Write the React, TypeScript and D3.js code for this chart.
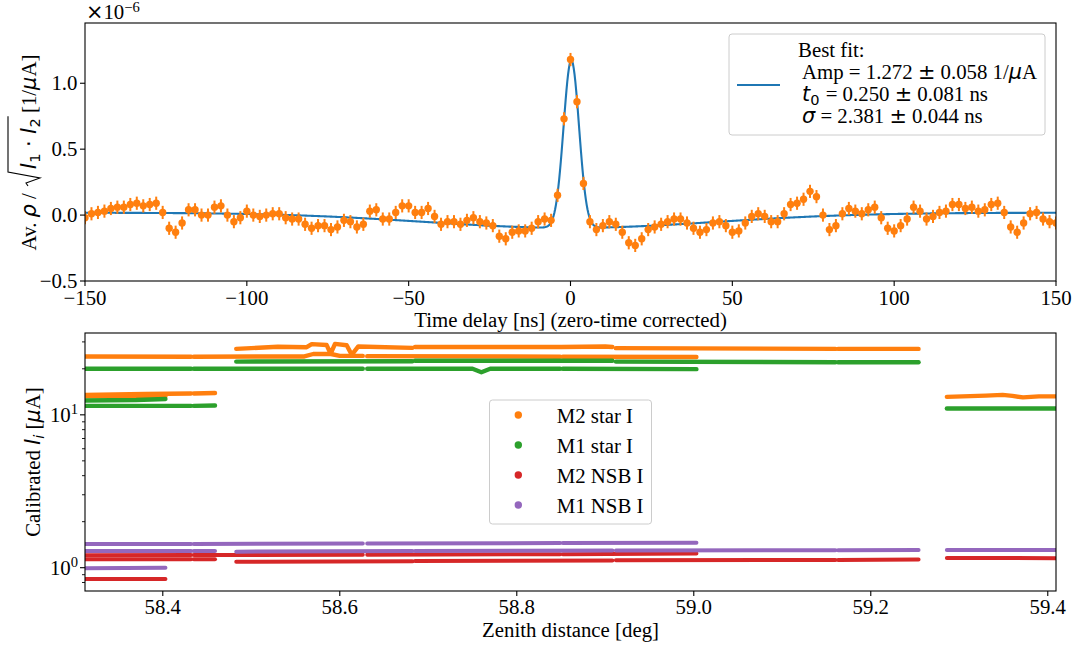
import React, { useLayoutEffect, useRef, useState } from 'react';
import * as d3 from 'd3';

const W = 1076;
const H = 647;
const SERIF = '"Liberation Serif", "Times New Roman", serif';
const MATH = '"DejaVu Sans", sans-serif';
const FS = 20.83;

// ---------------- Top panel data ----------------
const delayStart = -150;
const delayStep = 2;
const rhoLeft = [
  -0.02, 0.01, 0.02, 0.03, 0.05, 0.06, 0.06, 0.08, 0.09, 0.07,
  0.08, 0.09, 0.02, -0.10, -0.13, -0.06, 0.04, 0.04, 0.00, 0.00,
  0.06, 0.07, 0.00, -0.05, -0.02, 0.03, 0.00, -0.01, 0.00, 0.01,
  0.01, -0.02, -0.03, -0.03, -0.07, -0.10, -0.08, -0.08, -0.11, -0.09,
  -0.04, -0.05, -0.09, -0.07, 0.03, 0.04, -0.03, -0.03, 0.02, 0.07,
  0.07, 0.02, 0.02, 0.05, -0.01, -0.07, -0.05, -0.05, -0.07, -0.04,
  -0.02, -0.05, -0.06, -0.08, -0.16, -0.18, -0.13, -0.12, -0.12, -0.10,
  -0.05, -0.03, -0.04, 0.15,
];
const rhoPeak = [0.73, 1.18, 0.86, 0.24];
const rhoRight = [
  -0.05, -0.11, -0.08, -0.05, -0.07, -0.13, -0.21, -0.23, -0.18, -0.11,
  -0.09, -0.07, -0.05, -0.03, -0.03, -0.06, -0.10, -0.13, -0.11, -0.06,
  -0.05, -0.08, -0.13, -0.12, -0.06, -0.01, 0.01, -0.01, -0.05, -0.05,
  0.01, 0.08, 0.09, 0.12, 0.18, 0.14, 0.00, -0.11, -0.08, 0.01,
  0.05, 0.03, 0.01, 0.04, 0.06, -0.02, -0.10, -0.12, -0.08, -0.03,
  0.06, 0.03, -0.03, -0.01, 0.02, 0.03, 0.08, 0.08, 0.05, 0.06,
  0.03, 0.04, 0.08, 0.09, 0.02, -0.09, -0.13, -0.06, 0.01, 0.02,
  -0.03, -0.05, -0.06,
];
const rhoValues = [...rhoLeft, ...rhoPeak, ...rhoRight];
const delays = rhoValues.map((_, i) => delayStart + i * delayStep);
const rhoErr = 0.05;

// fit model parameters (legend) + broad baseline
const fitAmp = 1.272;
const fitT0 = 0.25;
const fitSigma = 2.381;
const baseOffset = 0.018;
const baseDip = 0.115;
const baseWidth = 45;

const topXTicks = [-150, -100, -50, 0, 50, 100, 150];
const topYTicks = [-0.5, 0.0, 0.5, 1.0];

// ---------------- Bottom panel data ----------------
type Seg = [number, number][];
const seriesNames = ['M2 star I', 'M1 star I', 'M2 NSB I', 'M1 NSB I'];
const seriesColors = ['#ff7f0e', '#2ca02c', '#d62728', '#9467bd'];

const m2StarI: Seg[] = [
  [[58.312, 13.2], [58.403, 13.25]],
  [[58.312, 13.5], [58.38, 13.7], [58.432, 13.8]],
  [[58.435, 13.8], [58.459, 13.9]],
  [[58.312, 24.1], [58.432, 24.0]],
  [[58.435, 24.0], [58.56, 24.1], [58.57, 25.0], [58.59, 25.0], [58.60, 24.3], [58.626, 24.3]],
  [[58.631, 24.2], [58.849, 24.0]],
  [[58.852, 24.0], [59.003, 23.9]],
  [[58.483, 27.0], [58.53, 27.9], [58.5626, 27.7], [58.5683, 29.0], [58.5852, 28.6], [58.5897, 25.1],
   [58.5946, 29.1], [58.6078, 28.5], [58.6135, 24.7], [58.6209, 28.0], [58.682, 27.4]],
  [[58.685, 27.8], [58.85, 27.8], [58.9, 28.0], [58.908, 27.8]],
  [[58.912, 27.3], [59.160, 27.0]],
  [[59.163, 27.0], [59.254, 27.0]],
  [[59.286, 13.1], [59.33, 13.35], [59.349, 13.5], [59.36, 13.3], [59.372, 13.0], [59.39, 13.2], [59.412, 13.2]],
];
const m1StarI: Seg[] = [
  [[58.312, 12.4], [58.37, 12.5], [58.403, 12.7]],
  [[58.312, 11.45], [58.432, 11.45]],
  [[58.435, 11.45], [58.459, 11.5]],
  [[58.312, 20.0], [58.432, 20.0]],
  [[58.435, 20.0], [58.626, 20.0]],
  [[58.631, 20.0], [58.75, 20.0], [58.76, 19.0], [58.77, 20.0], [58.849, 20.0]],
  [[58.852, 20.0], [59.003, 19.9]],
  [[58.483, 22.3], [58.682, 22.4]],
  [[58.685, 22.6], [58.908, 22.6]],
  [[58.912, 22.3], [59.160, 22.1]],
  [[59.163, 22.1], [59.254, 22.1]],
  [[59.286, 11.0], [59.412, 11.0]],
];
const m2NsbI: Seg[] = [
  [[58.312, 0.843], [58.403, 0.845]],
  [[58.312, 1.135], [58.432, 1.135]],
  [[58.435, 1.135], [58.459, 1.135]],
  [[58.312, 1.205], [58.432, 1.21]],
  [[58.435, 1.21], [58.626, 1.215]],
  [[58.631, 1.215], [58.849, 1.225]],
  [[58.852, 1.225], [59.003, 1.24]],
  [[58.483, 1.094], [58.682, 1.10]],
  [[58.685, 1.105], [58.908, 1.115]],
  [[58.912, 1.118], [59.160, 1.125]],
  [[59.163, 1.125], [59.254, 1.13]],
  [[59.286, 1.158], [59.412, 1.155]],
];
const m1NsbI: Seg[] = [
  [[58.312, 0.99], [58.403, 1.0]],
  [[58.312, 1.287], [58.432, 1.287]],
  [[58.435, 1.287], [58.459, 1.287]],
  [[58.312, 1.43], [58.432, 1.43]],
  [[58.435, 1.43], [58.626, 1.44]],
  [[58.631, 1.44], [58.849, 1.45]],
  [[58.852, 1.45], [59.003, 1.458]],
  [[58.483, 1.273], [58.682, 1.285]],
  [[58.685, 1.287], [58.908, 1.295]],
  [[58.912, 1.297], [59.160, 1.30]],
  [[59.163, 1.30], [59.254, 1.305]],
  [[59.286, 1.306], [59.412, 1.306]],
];
const seriesSegs = [m2StarI, m1StarI, m2NsbI, m1NsbI];

const botXTicks = [58.4, 58.6, 58.8, 59.0, 59.2, 59.4];
const botYMajor = [1, 10];
const botYMinor = [0.8, 0.9, 2, 3, 4, 5, 6, 7, 8, 9, 20, 30];

// ---------------- layout ----------------
const L = 85, R = 1056;
const T1 = 23, B1 = 281;
const T2 = 333, B2 = 591;

const xTop = d3.scaleLinear().domain([-150, 150]).range([L, R]);
const yTop = d3.scaleLinear().domain([-0.5, 1.457]).range([B1, T1]);
const xBot = d3.scaleLinear().domain([58.3121, 59.4093]).range([L, R]);
const yBot = d3.scaleLog().domain([0.704, 34.3]).range([B2, T2]);

const fmtTop = (v: number) => (v < 0 ? '\u2212' : '') + Math.abs(v).toString();
const fmtTopY = (v: number) => (v < 0 ? '\u2212' : '') + Math.abs(v).toFixed(1);

function fitModel(t: number) {
  const g = fitAmp * Math.exp(-((t - fitT0) ** 2) / (2 * fitSigma * fitSigma));
  const b = baseOffset - baseDip * Math.exp(-(t * t) / (2 * baseWidth * baseWidth));
  return g + b;
}

function TopYLabel() {
  const ref = useRef<SVGTextElement>(null);
  const [rad, setRad] = useState<{ x0: number; x1: number } | null>(null);
  useLayoutEffect(() => {
    const t = ref.current;
    if (!t) return;
    const s = t.textContent || '';
    const i0 = s.indexOf('I');
    const i1 = s.indexOf('2');
    const e0 = t.getExtentOfChar(i0);
    const e1 = t.getExtentOfChar(i1);
    setRad({ x0: e0.x, x1: e1.x + e1.width });
  }, []);
  return (
    <g transform="translate(36,152.5) rotate(-90)">
      <text ref={ref} x={0} y={0} textAnchor="middle" fontFamily={SERIF} fontSize={FS} fill="#000">
        <tspan>Av. </tspan>
        <tspan fontFamily={MATH} fontStyle="italic">ρ</tspan>
        <tspan> / </tspan>
        <tspan dx={19} fontFamily={MATH} fontStyle="italic">I</tspan>
        <tspan fontFamily={MATH} fontSize={FS * 0.7} dy={4}>1</tspan>
        <tspan fontFamily={MATH} dy={-4}> · </tspan>
        <tspan fontFamily={MATH} fontStyle="italic">I</tspan>
        <tspan fontFamily={MATH} fontSize={FS * 0.7} dy={4}>2</tspan>
        <tspan dy={-4}> [1/</tspan>
        <tspan fontFamily={MATH} fontStyle="italic">μ</tspan>
        <tspan>A]</tspan>
      </text>
      {rad && (
        <path
          d={`M${rad.x0 - 17},${-8} L${rad.x0 - 14},${-10} L${rad.x0 - 9},${4} L${rad.x0 - 3},${-28} H${rad.x1 + 2}`}
          fill="none"
          stroke="#000"
          strokeWidth={1.1}
        />
      )}
    </g>
  );
}

export default function App() {
  const fitPts = d3.range(-150, 150.001, 0.25).map((t) => [t, fitModel(t)] as [number, number]);
  const fitLine = d3
    .line<[number, number]>()
    .x((d) => xTop(d[0]))
    .y((d) => yTop(d[1]))(fitPts);
  const segLine = d3
    .line<[number, number]>()
    .x((d) => xBot(d[0]))
    .y((d) => yBot(d[1]));

  const orange = '#ff7f0e';
  const blue = '#1f77b4';

  return (
    <svg width={W} height={H} style={{ position: 'absolute', left: 0, top: 0, background: '#fff' }}>
      <defs>
        <clipPath id="clipTop">
          <rect x={L} y={T1} width={R - L} height={B1 - T1} />
        </clipPath>
        <clipPath id="clipBot">
          <rect x={L} y={T2} width={R - L} height={B2 - T2} />
        </clipPath>
      </defs>
      <rect x={0} y={0} width={W} height={H} fill="#fff" />

      {/* ---------- TOP PANEL ---------- */}
      <g clipPath="url(#clipTop)">
        <path d={fitLine || ''} fill="none" stroke={blue} strokeWidth={2.1} />
        {delays.map((t, i) => (
          <line
            key={'e' + i}
            x1={xTop(t)}
            x2={xTop(t)}
            y1={yTop(rhoValues[i] - rhoErr)}
            y2={yTop(rhoValues[i] + rhoErr)}
            stroke={orange}
            strokeWidth={2}
          />
        ))}
        {delays.map((t, i) => (
          <circle key={'p' + i} cx={xTop(t)} cy={yTop(rhoValues[i])} r={3.7} fill={orange} />
        ))}
      </g>
      <rect x={L} y={T1} width={R - L} height={B1 - T1} fill="none" stroke="#000" strokeWidth={1.1} />
      {topXTicks.map((v) => (
        <g key={'tx' + v}>
          <line x1={xTop(v)} x2={xTop(v)} y1={B1} y2={B1 + 5} stroke="#000" strokeWidth={1.1} />
          <text x={xTop(v)} y={B1 + 24} textAnchor="middle" fontFamily={SERIF} fontSize={FS}>
            {fmtTop(v)}
          </text>
        </g>
      ))}
      {topYTicks.map((v) => (
        <g key={'ty' + v}>
          <line x1={L - 5} x2={L} y1={yTop(v)} y2={yTop(v)} stroke="#000" strokeWidth={1.1} />
          <text x={L - 7.5} y={yTop(v) + 7} textAnchor="end" fontFamily={SERIF} fontSize={FS}>
            {fmtTopY(v)}
          </text>
        </g>
      ))}
      <text x={L + 1} y={19} fontFamily={SERIF} fontSize={FS}>
        <tspan fontFamily={MATH}>×</tspan>
        <tspan>10</tspan>
        <tspan fontSize={FS * 0.7} dy={-7}>
          {'\u22126'}
        </tspan>
      </text>
      <text x={(L + R) / 2} y={327} textAnchor="middle" fontFamily={SERIF} fontSize={FS}>
        Time delay [ns] (zero-time corrected)
      </text>
      <TopYLabel />

      {/* top legend */}
      <rect x={729} y={34} width={316} height={101} rx={3} fill="#fff" fillOpacity={0.8} stroke="#cccccc" strokeWidth={1} />
      <line x1={737} x2={780} y1={85} y2={85} stroke={blue} strokeWidth={2.1} />
      <g fontFamily={SERIF} fontSize={FS}>
        <text x={798} y={57}>Best fit:</text>
        <text x={802} y={79.3}>
          <tspan>Amp = 1.272 </tspan>
          <tspan fontFamily={MATH}>±</tspan>
          <tspan> 0.058 1/</tspan>
          <tspan fontFamily={MATH} fontStyle="italic">μ</tspan>
          <tspan>A</tspan>
        </text>
        <text x={802} y={101}>
          <tspan fontFamily={MATH} fontStyle="italic">t</tspan>
          <tspan fontFamily={MATH} fontSize={FS * 0.7} dy={4}>0</tspan>
          <tspan dy={-4} dx={1}> = 0.250 </tspan>
          <tspan fontFamily={MATH}>±</tspan>
          <tspan> 0.081 ns</tspan>
        </text>
        <text x={802} y={122.7}>
          <tspan fontFamily={MATH} fontStyle="italic">σ</tspan>
          <tspan> = 2.381 </tspan>
          <tspan fontFamily={MATH}>±</tspan>
          <tspan> 0.044 ns</tspan>
        </text>
      </g>

      {/* ---------- BOTTOM PANEL ---------- */}
      <g clipPath="url(#clipBot)">
        {seriesSegs.map((segs, si) =>
          segs.map((seg, k) => (
            <path
              key={'s' + si + '_' + k}
              d={segLine(seg) || ''}
              fill="none"
              stroke={seriesColors[si]}
              strokeWidth={si < 2 ? 4.4 : 4}
              strokeLinecap="round"
              strokeLinejoin="round"
            />
          ))
        )}
      </g>
      <rect x={L} y={T2} width={R - L} height={B2 - T2} fill="none" stroke="#000" strokeWidth={1.1} />
      {botXTicks.map((v) => (
        <g key={'bx' + v}>
          <line x1={xBot(v)} x2={xBot(v)} y1={B2} y2={B2 + 5} stroke="#000" strokeWidth={1.1} />
          <text x={xBot(v)} y={B2 + 23} textAnchor="middle" fontFamily={SERIF} fontSize={FS}>
            {v.toFixed(1)}
          </text>
        </g>
      ))}
      {botYMinor.map((v) => (
        <line key={'bm' + v} x1={L - 3} x2={L} y1={yBot(v)} y2={yBot(v)} stroke="#000" strokeWidth={0.9} />
      ))}
      {botYMajor.map((v) => (
        <g key={'by' + v}>
          <line x1={L - 5} x2={L} y1={yBot(v)} y2={yBot(v)} stroke="#000" strokeWidth={1.1} />
          <text x={L - 7} y={yBot(v) + 7} textAnchor="end" fontFamily={SERIF} fontSize={FS}>
            <tspan>10</tspan>
            <tspan fontSize={FS * 0.7} dy={-8}>
              {String(Math.round(Math.log10(v)))}
            </tspan>
          </text>
        </g>
      ))}
      <text x={(L + R) / 2} y={637} textAnchor="middle" fontFamily={SERIF} fontSize={FS}>
        Zenith distance [deg]
      </text>
      <g transform={`translate(40,${(T2 + B2) / 2}) rotate(-90)`}>
        <text x={0} y={0} textAnchor="middle" fontFamily={SERIF} fontSize={FS}>
          <tspan>Calibrated </tspan>
          <tspan fontFamily={MATH} fontStyle="italic">I</tspan>
          <tspan fontFamily={MATH} fontStyle="italic" fontSize={FS * 0.7} dy={4}>i</tspan>
          <tspan dy={-4}> [</tspan>
          <tspan fontFamily={MATH} fontStyle="italic">μ</tspan>
          <tspan>A]</tspan>
        </text>
      </g>

      {/* bottom legend */}
      <rect x={489.5} y={400} width={162} height={124} rx={3} fill="#fff" fillOpacity={0.8} stroke="#cccccc" strokeWidth={1} />
      {seriesNames.map((name, i) => (
        <g key={'lg' + i}>
          <circle cx={518.3} cy={415 + 30 * i} r={3.7} fill={seriesColors[i]} />
          <text x={556.7} y={422.5 + 30 * i} fontFamily={SERIF} fontSize={FS}>
            {name}
          </text>
        </g>
      ))}
    </svg>
  );
}
